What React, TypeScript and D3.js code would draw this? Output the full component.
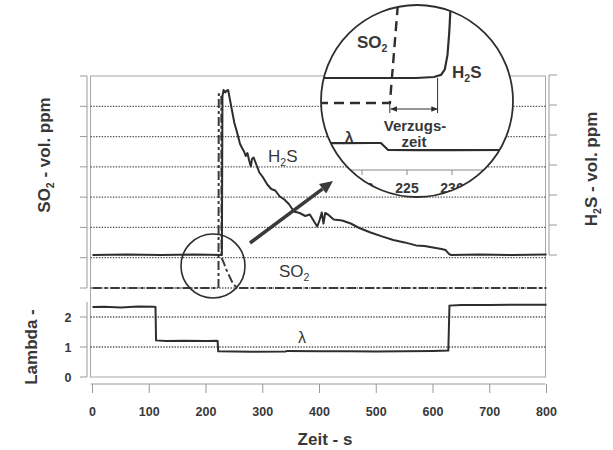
import React from 'react';
import * as d3 from 'd3';

// Time axis (s) and axis tick values
const timeTicks = [0, 100, 200, 300, 400, 500, 600, 700, 800];
const lambdaTicks = [0, 1, 2];
const so2Ticks = [0, 1, 2, 3, 4, 5, 6, 7];
const h2sTicks = [0, 1, 2, 3, 4, 5, 6];

// H2S concentration (axis units) over time (s)
const h2sSeries: [number, number][] = [
  [0, 0.0], [60, 0.02], [120, 0.0], [180, 0.02], [228, 0.0],
  [229, 5.3], [231, 5.5], [234, 5.42], [236, 5.47], [239, 5.5],
  [242, 5.2], [245, 4.9], [250, 4.4], [255, 4.07], [260, 3.7],
  [264, 3.55], [267, 3.45], [270, 3.3], [273, 3.4], [276, 3.15],
  [279, 2.95], [281, 3.2], [284, 3.25], [288, 3.05], [294, 2.75],
  [300, 2.6], [308, 2.35], [315, 2.2], [322, 2.15], [330, 1.95],
  [338, 1.85], [346, 1.7], [355, 1.45], [365, 1.4], [375, 1.3],
  [383, 1.35], [391, 1.1], [396, 0.95], [400, 1.15], [404, 1.42],
  [407, 1.05], [410, 1.4], [415, 1.35], [425, 1.18], [440, 1.15],
  [455, 1.05], [470, 0.9], [490, 0.75], [510, 0.62], [530, 0.5],
  [550, 0.42], [570, 0.32], [585, 0.3], [600, 0.25], [615, 0.2],
  [622, 0.17], [628, 0.04], [632, 0.0], [680, 0.02], [740, 0.0],
  [800, 0.02],
];

// SO2 concentration (axis units) over time (s)
const so2Series: [number, number][] = [
  [0, 0], [222, 0], [222.5, 6.4], [227, 6.4], [227.5, 1.0],
  [231, 0.85], [236, 0.6], [241, 0.4], [246, 0.2], [251, 0.07],
  [256, 0], [800, 0],
];

// Air ratio lambda over time (s)
const lambdaSeries: [number, number][] = [
  [0, 2.33], [20, 2.34], [50, 2.32], [80, 2.35], [108, 2.34],
  [111, 2.33], [112, 1.22], [130, 1.2], [160, 1.21], [200, 1.2],
  [219, 1.21], [220.5, 1.2], [221.5, 0.86], [250, 0.85], [280, 0.84],
  [340, 0.85], [343, 0.87], [400, 0.86], [450, 0.86], [500, 0.85],
  [550, 0.86], [600, 0.87], [627, 0.88], [629, 2.38], [650, 2.4],
  [700, 2.4], [750, 2.41], [800, 2.41],
];

// Enlarged view around the switch-over (s)
const zoomTicks = [220, 225, 230];
const zoomH2S: [number, number][] = [
  [208, 0], [222, 0.0], [226, 0.0], [228, 0.015], [228.8, 0.05],
  [229.2, 0.13], [229.5, 0.35], [229.7, 0.7], [229.85, 1.1],
];
const zoomSO2: [number, number][] = [[208, 0], [223.1, 0], [224.0, 1.1]];
const zoomLambda: [number, number][] = [
  [208, 1.2], [218, 1.19], [221, 1.2], [222.1, 1.2], [222.9, 0.87],
  [226, 0.86], [230, 0.865], [238, 0.87],
];
const delayStart = 223.2;
const delayEnd = 228.4;

const FONT = '"Liberation Sans", Arial, sans-serif';
const INK = '#2e2e2e';
const TEXT = '#383838';

export default function App() {
  const W = 613, H = 450;
  const left = 90.5, right = 545.5, top = 76, bottom = 377;

  const x = d3.scaleLinear().domain([0, 800]).range([92.5, 546.5]);
  const ySO2 = d3.scaleLinear().domain([0, 7]).range([288, top]);
  const yH2S = d3.scaleLinear().domain([0, 6]).range([255, 75]);
  const yLambda = d3.scaleLinear().domain([0, 2.5]).range([bottom, 302]);

  const lineH2S = d3.line<[number, number]>().x(d => x(d[0])).y(d => yH2S(d[1]));
  const lineSO2 = d3.line<[number, number]>().x(d => x(d[0])).y(d => ySO2(d[1]));
  const lineLambda = d3.line<[number, number]>().x(d => x(d[0])).y(d => yLambda(d[1]));

  // enlarged view scales
  const cx = 417, cy = 101, cr = 96;
  const zx = d3.scaleLinear().domain([220, 230]).range([362, 452]);
  const zH2S = d3.scaleLinear().domain([0, 1]).range([78, 12]);
  const zSO2 = d3.scaleLinear().domain([0, 1]).range([103, 12]);
  const zLam = d3.scaleLinear().domain([0.87, 1.2]).range([150, 143]);
  const zAxisY = 170;

  const zLineH2S = d3.line<[number, number]>().x(d => zx(d[0])).y(d => zH2S(d[1]));
  const zLineSO2 = d3.line<[number, number]>().x(d => zx(d[0])).y(d => zSO2(d[1]));
  const zLineLam = d3.line<[number, number]>().x(d => zx(d[0])).y(d => zLam(d[1]));

  const gridVals = [
    ...so2Ticks.filter(v => v < 7).map(v => ySO2(v)),
    ...lambdaTicks.filter(v => v > 0).map(v => yLambda(v)),
  ];

  // pointer arrow from small circle to enlarged view
  const a0 = [250, 243], a1 = [333, 181];
  const ang = Math.atan2(a1[1] - a0[1], a1[0] - a0[0]);
  const headLen = 13, headW = 6;
  const bx = a1[0] - headLen * Math.cos(ang), by = a1[1] - headLen * Math.sin(ang);
  const head = [
    [a1[0], a1[1]],
    [bx + headW * Math.sin(ang), by - headW * Math.cos(ang)],
    [bx - headW * Math.sin(ang), by + headW * Math.cos(ang)],
  ].map(p => p.join(',')).join(' ');

  const sub = (base: string, s: string, rest: string, fs: number) => (
    <>
      {base}
      <tspan fontSize={fs * 0.62} dy={fs * 0.22}>{s}</tspan>
      <tspan dy={-fs * 0.22}>{rest}</tspan>
    </>
  );

  return (
    <svg width={W} height={H} style={{ position: 'absolute', left: 0, top: 0, background: '#fff' }}
      fontFamily={FONT}>
      <defs>
        <clipPath id="zoomClip">
          <circle cx={cx} cy={cy} r={cr} />
        </clipPath>
        <marker id="dArrow" viewBox="0 0 10 10" refX="9" refY="5" markerWidth="7" markerHeight="7"
          orient="auto-start-reverse" markerUnits="userSpaceOnUse">
          <path d="M0,1 L10,5 L0,9 Z" fill={INK} />
        </marker>
      </defs>

      {/* plot frame */}
      <rect x={left} y={top} width={right - left} height={bottom - top} fill="none" stroke="#a8a8a8" strokeWidth={1} />

      {/* dotted gridlines */}
      {gridVals.map((gy, i) => (
        <line key={i} x1={left} x2={right} y1={gy} y2={gy} stroke="#555" strokeWidth={1.3} strokeDasharray="1.4 1.4" />
      ))}

      {/* left SO2 axis */}
      <line x1={87} x2={87} y1={top} y2={ySO2(0)} stroke="#9a9a9a" />
      {so2Ticks.map(v => (
        <line key={v} x1={80} x2={87} y1={ySO2(v)} y2={ySO2(v)} stroke="#9a9a9a" />
      ))}
      {/* left lambda axis */}
      <line x1={87} x2={87} y1={yLambda(2.5)} y2={yLambda(0)} stroke="#9a9a9a" />
      {lambdaTicks.map(v => (
        <g key={v}>
          <line x1={80} x2={87} y1={yLambda(v)} y2={yLambda(v)} stroke="#9a9a9a" />
          <text x={68} y={yLambda(v) + 4.5} textAnchor="middle" fontSize={12.5} fontWeight="bold" fill={TEXT}>{v}</text>
        </g>
      ))}
      {/* right H2S axis */}
      <line x1={549} x2={549} y1={yH2S(6)} y2={yH2S(0)} stroke="#9a9a9a" />
      {h2sTicks.map(v => (
        <line key={v} x1={549} x2={557} y1={yH2S(v)} y2={yH2S(v)} stroke="#9a9a9a" />
      ))}
      {/* time axis */}
      <line x1={left} x2={right} y1={384} y2={384} stroke="#9a9a9a" />
      {timeTicks.map(t => (
        <g key={t}>
          <line x1={x(t)} x2={x(t)} y1={384} y2={393} stroke="#9a9a9a" />
          <text x={x(t)} y={416} textAnchor="middle" fontSize={12.5} fontWeight="bold" fill={TEXT}>{t}</text>
        </g>
      ))}

      {/* series */}
      <path d={lineSO2(so2Series) || ''} fill="none" stroke="#3a3a3a" strokeWidth={2} strokeDasharray="9 3 3 3" />
      <path d={lineH2S(h2sSeries) || ''} fill="none" stroke={INK} strokeWidth={2} strokeLinejoin="round" />
      <path d={lineLambda(lambdaSeries) || ''} fill="none" stroke={INK} strokeWidth={2} />

      {/* series labels */}
      <text x={268} y={162} fontSize={17} fill={TEXT}>{sub('H', '2', 'S', 17)}</text>
      <text x={279} y={277} fontSize={17} fill={TEXT}>{sub('SO', '2', '', 17)}</text>
      <text x={298} y={343} fontSize={16} fill={TEXT}>λ</text>

      {/* highlight circle and pointer */}
      <circle cx={213} cy={266} r={32} fill="none" stroke={INK} strokeWidth={1.6} />
      <line x1={a0[0]} y1={a0[1]} x2={bx} y2={by} stroke="#3a3a3a" strokeWidth={3.5} />
      <polygon points={head} fill="#3a3a3a" />

      {/* enlarged view */}
      <circle cx={cx} cy={cy} r={cr} fill="#fff" />
      <g clipPath="url(#zoomClip)">
        <path d={zLineH2S(zoomH2S) || ''} fill="none" stroke={INK} strokeWidth={2.2} />
        <path d={zLineSO2(zoomSO2) || ''} fill="none" stroke={INK} strokeWidth={2.4} strokeDasharray="10 6" />
        <path d={zLineLam(zoomLambda) || ''} fill="none" stroke={INK} strokeWidth={2.2} />
        <line x1={zx(delayEnd)} x2={zx(delayEnd)} y1={zH2S(0)} y2={113} stroke={INK} strokeWidth={1} />
        <line x1={zx(delayStart) - 1} x2={zx(delayStart) - 1} y1={zSO2(0)} y2={113} stroke={INK} strokeWidth={1} />
        <line x1={zx(delayStart)} x2={zx(delayEnd)} y1={109} y2={109} stroke={INK} strokeWidth={1}
          markerStart="url(#dArrow)" markerEnd="url(#dArrow)" />
        <line x1={300} x2={540} y1={zAxisY} y2={zAxisY} stroke="#8a8a8a" strokeWidth={1} />
        {zoomTicks.map(t => (
          <g key={t}>
            <line x1={zx(t)} x2={zx(t)} y1={zAxisY} y2={zAxisY + 5} stroke="#8a8a8a" />
            <text x={zx(t)} y={193} textAnchor="middle" fontSize={14} fontWeight="bold" fill={TEXT}>{t}</text>
          </g>
        ))}
        <text x={357} y={48} fontSize={17} fontWeight="bold" fill={TEXT}>{sub('SO', '2', '', 17)}</text>
        <text x={452} y={78} fontSize={17} fontWeight="bold" fill={TEXT}>{sub('H', '2', 'S', 17)}</text>
        <text x={345} y={142} fontSize={15} fontWeight="bold" fill={TEXT}>λ</text>
        <text x={415} y={131} textAnchor="middle" fontSize={15} fontWeight="bold" fill={TEXT}>Verzugs-</text>
        <text x={414} y={147} textAnchor="middle" fontSize={15} fontWeight="bold" fill={TEXT}>zeit</text>
      </g>
      <circle cx={cx} cy={cy} r={cr} fill="none" stroke={INK} strokeWidth={1.8} />

      {/* axis titles */}
      <text transform="translate(50,155) rotate(-90)" textAnchor="middle" fontSize={17} fontWeight="bold" fill={TEXT}>
        {sub('SO', '2', ' - vol. ppm', 17)}
      </text>
      <text transform="translate(37,347) rotate(-90)" textAnchor="middle" fontSize={17} fontWeight="bold" fill={TEXT}>
        Lambda -
      </text>
      <text transform="translate(597,169) rotate(-90)" textAnchor="middle" fontSize={17} fontWeight="bold" fill={TEXT}>
        {sub('H', '2', 'S - vol. ppm', 17)}
      </text>
      <text x={325} y={445} textAnchor="middle" fontSize={17} fontWeight="bold" fill={TEXT}>Zeit - s</text>
    </svg>
  );
}
